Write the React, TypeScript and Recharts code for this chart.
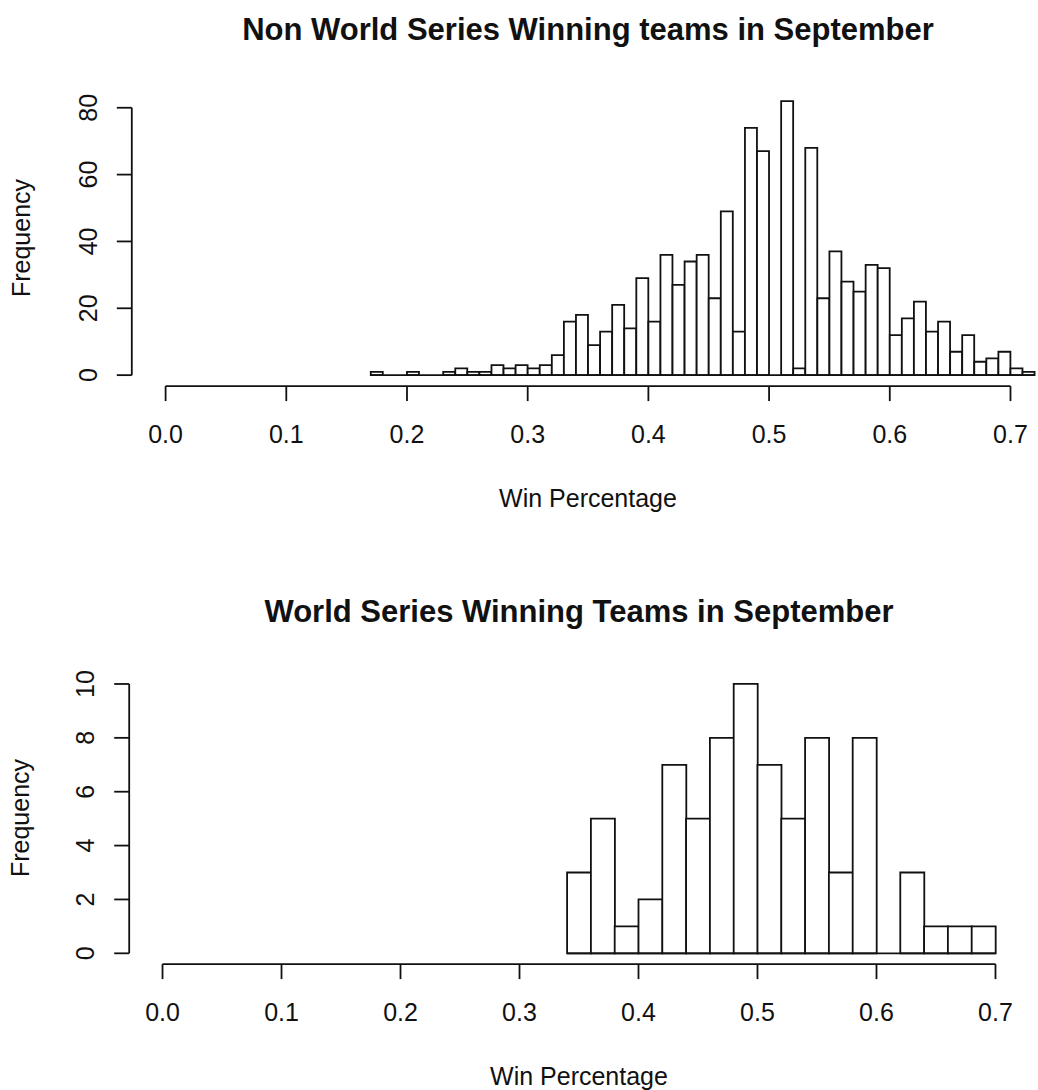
import React from 'react';
import { BarChart, Bar, XAxis, YAxis, ReferenceLine } from 'recharts';

// ---- Top histogram: Non World Series winning teams (bins of 0.01) ----
const topBinStarts = [
  0.17, 0.18, 0.19, 0.2, 0.21, 0.22, 0.23, 0.24, 0.25, 0.26, 0.27, 0.28, 0.29, 0.3,
  0.31, 0.32, 0.33, 0.34, 0.35, 0.36, 0.37, 0.38, 0.39, 0.4, 0.41, 0.42, 0.43, 0.44,
  0.45, 0.46, 0.47, 0.48, 0.49, 0.5, 0.51, 0.52, 0.53, 0.54, 0.55, 0.56, 0.57, 0.58,
  0.59, 0.6, 0.61, 0.62, 0.63, 0.64, 0.65, 0.66, 0.67, 0.68, 0.69, 0.7, 0.71,
];
const topCounts = [
  1, 0, 0, 1, 0, 0, 1, 2, 1, 1, 3, 2, 3, 2,
  3, 6, 16, 18, 9, 13, 21, 14, 29, 16, 36, 27, 34, 36,
  23, 49, 13, 74, 67, 0, 82, 2, 68, 23, 37, 28, 25, 33,
  32, 12, 17, 22, 13, 16, 7, 12, 4, 5, 7, 2, 1,
];
const topBinWidth = 0.01;
const topTitle = 'Non World Series Winning teams in September';
const topXTicks = [0, 0.1, 0.2, 0.3, 0.4, 0.5, 0.6, 0.7];
const topYTicks = [0, 20, 40, 60, 80];

// ---- Bottom histogram: World Series winning teams (bins of 0.02) ----
const bottomBinStarts = [
  0.34, 0.36, 0.38, 0.4, 0.42, 0.44, 0.46, 0.48, 0.5, 0.52, 0.54, 0.56, 0.58, 0.6,
  0.62, 0.64, 0.66, 0.68,
];
const bottomCounts = [3, 5, 1, 2, 7, 5, 8, 10, 7, 5, 8, 3, 8, 0, 3, 1, 1, 1];
const bottomBinWidth = 0.02;
const bottomTitle = 'World Series Winning Teams in September';
const bottomXTicks = [0, 0.1, 0.2, 0.3, 0.4, 0.5, 0.6, 0.7];
const bottomYTicks = [0, 2, 4, 6, 8, 10];

const xLabel = 'Win Percentage';
const yLabel = 'Frequency';

const FONT = '"Liberation Sans", Arial, Helvetica, sans-serif';
const INK = '#111';
const LW = 1.8;

const buildRows = (starts: number[], counts: number[], w: number) =>
  starts.map((s, i) => ({ mid: s + w / 2, start: s, count: counts[i] }));

const topRows = buildRows(topBinStarts, topCounts, topBinWidth);
const bottomRows = buildRows(bottomBinStarts, bottomCounts, bottomBinWidth);

const XTick = (props: any) => {
  const { x, y, payload } = props;
  return (
    <text x={x} y={y} dy={40} textAnchor="middle" fontFamily={FONT} fontSize={25} fill={INK}>
      {Number(payload.value).toFixed(1)}
    </text>
  );
};

const YTick = (props: any) => {
  const { x, y, payload } = props;
  const bx = x - 18;
  return (
    <text
      x={bx}
      y={y}
      textAnchor="middle"
      transform={`rotate(-90, ${bx}, ${y})`}
      fontFamily={FONT}
      fontSize={25}
      fill={INK}
    >
      {String(payload.value)}
    </text>
  );
};

type HistProps = {
  rows: { mid: number; count: number }[];
  starts: number[];
  binWidth: number;
  xTicks: number[];
  yTicks: number[];
  yMax: number;
  xDomain: [number, number];
  margin: { top: number; right: number; bottom: number; left: number };
  yAxisWidth: number;
  xAxisHeight: number;
};

const Hist = ({ rows, starts, binWidth, xTicks, yTicks, yMax, xDomain, margin, yAxisWidth, xAxisHeight }: HistProps) => {
  const yPad = yMax * 0.04;
  const yDomain: [number, number] = [-yPad, yMax + yPad];
  const first = starts[0];
  const last = starts[starts.length - 1] + binWidth;
  return (
    <BarChart
      width={1038}
      height={545}
      data={rows}
      margin={margin}
      barCategoryGap={0}
      barGap={0}
    >
      <XAxis
        type="number"
        dataKey="mid"
        domain={xDomain}
        allowDataOverflow
        ticks={xTicks}
        interval={0}
        axisLine={false}
        tickSize={15}
        tickLine={{ stroke: INK, strokeWidth: LW }}
        tick={(p: any) => <XTick {...p} />}
        height={xAxisHeight}
      />
      <YAxis
        type="number"
        domain={yDomain}
        allowDataOverflow
        ticks={yTicks}
        interval={0}
        axisLine={false}
        tickSize={15}
        tickLine={{ stroke: INK, strokeWidth: LW }}
        tick={(p: any) => <YTick {...p} />}
        width={yAxisWidth}
      />
      <Bar dataKey="count" fill="#fff" stroke={INK} strokeWidth={LW} isAnimationActive={false} />
      <ReferenceLine
        segment={[{ x: first, y: 0 }, { x: last, y: 0 }]}
        stroke={INK}
        strokeWidth={LW}
        ifOverflow="visible"
      />
      <ReferenceLine
        segment={[{ x: xTicks[0], y: yDomain[0] }, { x: xTicks[xTicks.length - 1], y: yDomain[0] }]}
        stroke={INK}
        strokeWidth={LW}
        ifOverflow="visible"
      />
      <ReferenceLine
        segment={[{ x: xDomain[0], y: yTicks[0] }, { x: xDomain[0], y: yTicks[yTicks.length - 1] }]}
        stroke={INK}
        strokeWidth={LW}
        ifOverflow="visible"
      />
    </BarChart>
  );
};

export default function App() {
  return (
    <div style={{ position: 'absolute', left: 0, top: 0, width: 1038, height: 1090, background: '#fff' }}>
      <div style={{ position: 'absolute', left: 0, top: 0 }}>
        <Hist
          rows={topRows}
          starts={topBinStarts}
          binWidth={topBinWidth}
          xTicks={topXTicks}
          yTicks={topYTicks}
          yMax={82}
          xDomain={[-0.028, 0.7228]}
          margin={{ top: 90.1, right: 0, bottom: 0, left: 0 }}
          yAxisWidth={131.8}
          xAxisHeight={158.9}
        />
      </div>
      <div style={{ position: 'absolute', left: 0, top: 545 }}>
        <Hist
          rows={bottomRows}
          starts={bottomBinStarts}
          binWidth={bottomBinWidth}
          xTicks={bottomXTicks}
          yTicks={bottomYTicks}
          yMax={10}
          xDomain={[-0.028, 0.728]}
          margin={{ top: 128.2, right: 9.2, bottom: 0, left: 0 }}
          yAxisWidth={129.2}
          xAxisHeight={125.9}
        />
      </div>
      <svg
        width={1038}
        height={1090}
        style={{ position: 'absolute', left: 0, top: 0, pointerEvents: 'none' }}
      >
        <g fontFamily={FONT} fill={INK}>
          <text x={588} y={40} textAnchor="middle" fontSize={31} fontWeight="bold">{topTitle}</text>
          <text x={588} y={506.5} textAnchor="middle" fontSize={25}>{xLabel}</text>
          <text x={30} y={238} textAnchor="middle" fontSize={25} transform="rotate(-90, 30, 238)">{yLabel}</text>
          <text x={579} y={622} textAnchor="middle" fontSize={31} fontWeight="bold">{bottomTitle}</text>
          <text x={579} y={1084.5} textAnchor="middle" fontSize={25}>{xLabel}</text>
          <text x={29} y={818} textAnchor="middle" fontSize={25} transform="rotate(-90, 29, 818)">{yLabel}</text>
        </g>
      </svg>
    </div>
  );
}
